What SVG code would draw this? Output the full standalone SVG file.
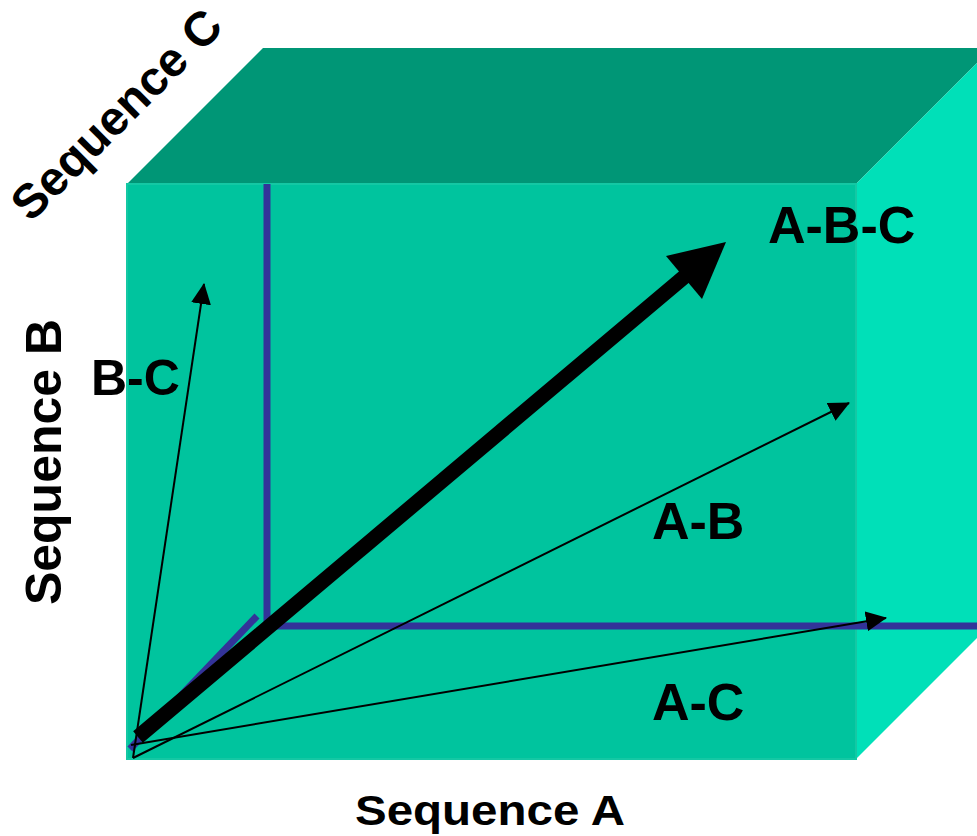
<svg xmlns="http://www.w3.org/2000/svg" width="977" height="836" viewBox="0 0 977 836">
<style>
.lbl{font-family:"Liberation Sans",Arial,sans-serif;font-weight:bold;fill:#000}
.thin{stroke:#000;stroke-width:2;fill:none}
.back{stroke:#333399;stroke-width:7;fill:none}
</style>
<defs>
<marker id="ah" viewBox="0 0 21 20" refX="20" refY="10" markerWidth="21" markerHeight="20" markerUnits="userSpaceOnUse" orient="auto">
<path d="M0,0 L21,10 L0,20 Z" fill="#000"/>
</marker>
</defs>
<rect width="977" height="836" fill="#fff"/>
<g id="cube">
<polygon points="127,184 263,48 992,48 856,184" fill="#009676"/>
<polygon points="856,184 992,48 992,623 856,759" fill="#00E0B8"/>
<rect x="127" y="184" width="729" height="575" fill="#00C49E" stroke="#14C8A4" stroke-width="2"/>
</g>
<g id="back-edges">
<line class="back" x1="267" y1="184" x2="267" y2="629"/>
<line class="back" x1="264" y1="626" x2="977" y2="626"/>
<line class="back" x1="130" y1="749" x2="257" y2="616"/>
</g>
<g id="connectors">
<line class="thin" x1="133" y1="758" x2="204" y2="284" marker-end="url(#ah)"/>
<line class="thin" x1="133" y1="758" x2="849" y2="403" marker-end="url(#ah)"/>
<line class="thin" x1="131" y1="745" x2="886" y2="618" marker-end="url(#ah)"/>
<line x1="138" y1="737" x2="690" y2="272" stroke="#000" stroke-width="15"/>
<polygon points="726,242 666,256 702,299" fill="#000"/>
</g>
<g id="label-abc"><text class="lbl" x="768" y="243" font-size="52">A-B-C</text></g>
<g id="label-bc"><text class="lbl" x="91" y="395" font-size="50">B-C</text></g>
<g id="label-ab"><text class="lbl" x="652" y="539" font-size="52">A-B</text></g>
<g id="label-ac"><text class="lbl" x="652" y="720" font-size="52">A-C</text></g>
<g id="label-seqa"><text class="lbl" x="355" y="825" font-size="42" textLength="270" lengthAdjust="spacingAndGlyphs">Sequence A</text></g>
<g id="label-seqb"><text class="lbl" font-size="50" text-anchor="middle" transform="translate(61,462) rotate(-90)">Sequence B</text></g>
<g id="label-seqc"><text class="lbl" font-size="48" text-anchor="middle" transform="translate(128,126) rotate(-45)">Sequence C</text></g>
</svg>
